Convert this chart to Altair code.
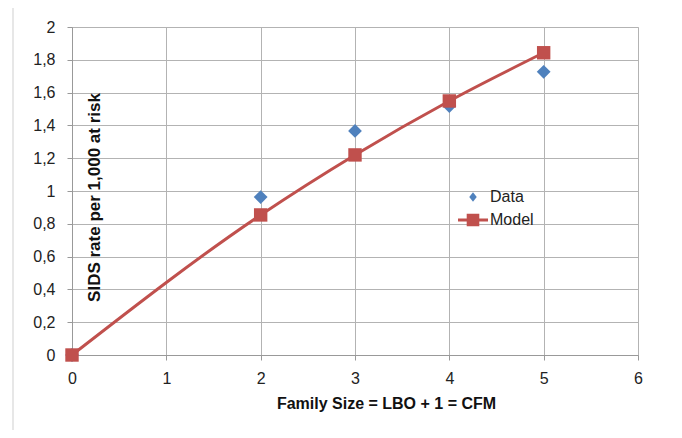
import altair as alt
import pandas as pd

family_size = [0, 2, 3, 4, 5]
data_rate = [0.0, 0.963, 1.366, 1.518, 1.727]
model_rate = [0.0, 0.854, 1.22, 1.549, 1.843]
series_names = ["Data", "Model"]
x_ticks = [0, 1, 2, 3, 4, 5, 6]
y_ticks = [0, 0.2, 0.4, 0.6, 0.8, 1.0, 1.2, 1.4, 1.6, 1.8, 2.0]

BLUE = "#4F81BD"
RED = "#C0504D"
FONT = "Liberation Sans"

df_data = pd.DataFrame({"x": family_size, "y": data_rate, "series": "Data"})
df_model = pd.DataFrame({"x": family_size, "y": model_rate, "series": "Model"})
df_all = pd.concat([df_data, df_model], ignore_index=True)

xscale = alt.Scale(domain=[0, 6], nice=False, zero=True)
yscale = alt.Scale(domain=[0, 2], nice=False)

x_axis = alt.Axis(
    values=x_ticks, tickCount=7, title="Family Size = LBO + 1 = CFM", format="d",
    titleX=314, titleY=48, titleBaseline="middle", titleAlign="center",
    titleFontWeight="bold", titleFontSize=16, titleFont=FONT, titleColor="#111",
    labelFont=FONT, labelFontSize=16, labelColor="#222", labelPadding=10,
    tickSize=5, tickColor="#999", domainColor="#999", labelOverlap=False,
    grid=True, gridColor="#b3b3b3", labelFlush=False)
y_axis = alt.Axis(
    values=y_ticks, tickCount=11, title="SIDS rate per 1,000 at risk",
    labelExpr="replace(format(datum.value, '~g'), '.', ',')",
    titleX=22, titleY=170, titleAngle=-90, titleBaseline="middle", titleAlign="center",
    titleFontWeight="bold", titleFontSize=17, titleFont=FONT, titleColor="#111",
    labelFont=FONT, labelFontSize=16, labelColor="#222", labelPadding=12,
    tickSize=5, tickColor="#999", domainColor="#999", labelOverlap=False,
    grid=True, gridColor="#b3b3b3", labelFlush=False)

X = alt.X("x:Q", scale=xscale, axis=x_axis)
Y = alt.Y("y:Q", scale=yscale, axis=y_axis)

data_pts = alt.Chart(df_data).mark_point(
    shape="diamond", filled=True, color=BLUE, size=190, opacity=1
).encode(x=X, y=Y)

model_line = alt.Chart(df_model).mark_line(
    color=RED, strokeWidth=3, interpolate="monotone"
).encode(x=X, y=Y)

model_pts = alt.Chart(df_model).mark_point(
    shape="square", filled=True, color=RED, size=180, opacity=1
).encode(x=X, y=Y)

leg = alt.Legend(title=None, orient="none", legendX=386, legendY=155,
                 labelFont=FONT, labelFontSize=16, labelColor="#222",
                 symbolSize=900, symbolStrokeWidth=0, rowPadding=-8,
                 labelOffset=2, padding=0, symbolOpacity=1)

legend_layer = alt.Chart(df_all).transform_filter("false").mark_point(
    filled=True, opacity=1
).encode(
    x=X, y=Y,
    color=alt.Color("series:N", scale=alt.Scale(domain=series_names, range=[BLUE, RED]), legend=leg),
    shape=alt.Shape("series:N", scale=alt.Scale(domain=series_names, range=[
        "M0,-0.32L0.25,0L0,0.32L-0.25,0Z",
        "M-1,-0.1H1V0.1H-1Z M-0.42,-0.42H0.42V0.42H-0.42Z"]), legend=leg),
)

frame_l = alt.Chart(pd.DataFrame({"a": [0]})).mark_rule(color="#cfcfcf", strokeWidth=1, clip=False).encode(
    x=alt.value(-59), y=alt.value(-30), y2=alt.value(420))
frame_r = alt.Chart(pd.DataFrame({"a": [0]})).mark_rule(color="#cfcfcf", strokeWidth=1, clip=False).encode(
    x=alt.value(609), y=alt.value(-30), y2=alt.value(420))

chart = alt.layer(data_pts, model_line, model_pts, legend_layer, frame_l, frame_r).properties(
    width=566, height=328,
    autosize=alt.AutoSizeParams(type="none"),
    padding={"left": 64, "top": 19, "right": 36, "bottom": 75},
).configure_view(stroke=None).configure(background="white")

chart.save("out.html", embed_options={"renderer": "svg", "actions": False})
